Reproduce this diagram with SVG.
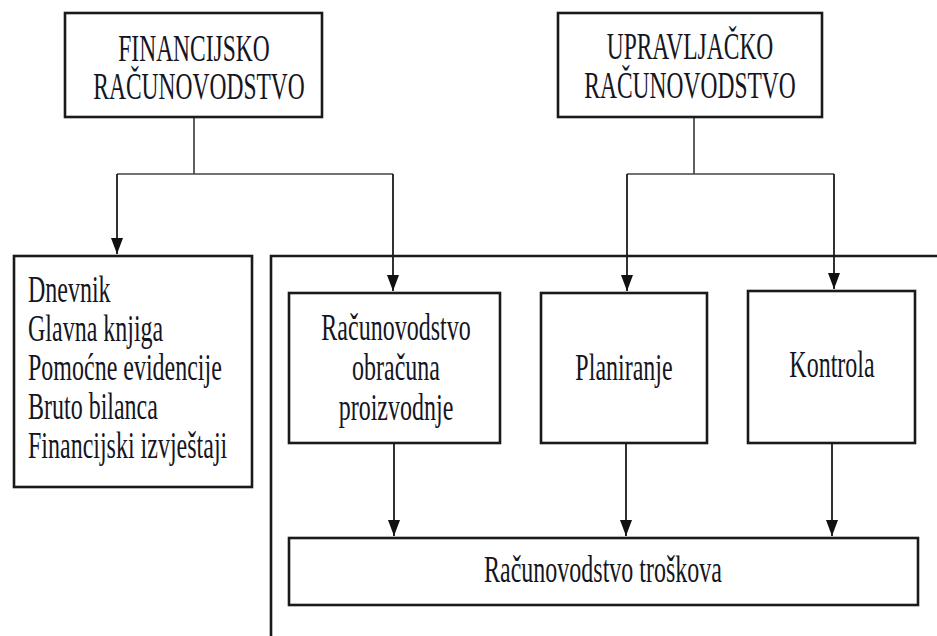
<svg xmlns="http://www.w3.org/2000/svg" width="937" height="636" viewBox="0 0 937 636">
<defs>
<marker id="ah" markerUnits="userSpaceOnUse" markerWidth="16" markerHeight="12" refX="16" refY="6" orient="auto" viewBox="0 0 16 12">
<path d="M0,0 L16,6 L0,12 Z" fill="#111"/>
</marker>
<style>
.box{fill:#fff;stroke:#1a1a1a;stroke-width:2.6}
.ln{fill:none;stroke:#444;stroke-width:1.7}
.arr{fill:none;stroke:#1a1a1a;stroke-width:1.8}
text{font-family:"Liberation Serif","Times New Roman",serif;font-size:24px;fill:#15151f}
.c{text-anchor:middle}
.t{font-size:23.5px}
</style>
</defs>
<rect width="937" height="636" fill="#fff"/>
<g id="connectors">
<path class="ln" d="M194,117 V174 M117,174 H393"/>
<path class="ln" d="M694,117 V174 M627,174 H834"/>
<line class="arr" x1="117" y1="174" x2="117" y2="254" marker-end="url(#ah)"/>
<line class="arr" x1="393" y1="174" x2="393" y2="291" marker-end="url(#ah)"/>
<line class="arr" x1="627" y1="174" x2="627" y2="291" marker-end="url(#ah)"/>
<line class="arr" x1="834" y1="174" x2="834" y2="289" marker-end="url(#ah)"/>
<line class="arr" x1="394" y1="443" x2="394" y2="536" marker-end="url(#ah)"/>
<line class="arr" x1="626" y1="443" x2="626" y2="536" marker-end="url(#ah)"/>
<line class="arr" x1="832" y1="443" x2="832" y2="536" marker-end="url(#ah)"/>
</g>
<g id="frame">
<path d="M937,256 H271 V636" fill="none" stroke="#1a1a1a" stroke-width="2.6"/>
</g>
<g id="financijsko">
<rect class="box" x="65" y="13" width="257" height="104"/>
<text class="c t" transform="translate(194,61) scale(1,1.58)">FINANCIJSKO</text>
<text class="c t" transform="translate(199,99) scale(1,1.58)">RAČUNOVODSTVO</text>
</g>
<g id="upravljacko">
<rect class="box" x="558" y="13" width="264" height="104"/>
<text class="c t" transform="translate(690,59) scale(1,1.58)">UPRAVLJAČKO</text>
<text class="c t" transform="translate(690,98) scale(1,1.58)">RAČUNOVODSTVO</text>
</g>
<g id="lista">
<rect class="box" x="14" y="256" width="238" height="231"/>
<text transform="translate(28,302) scale(1,1.58)">Dnevnik</text>
<text transform="translate(28,341) scale(1,1.58)">Glavna knjiga</text>
<text transform="translate(28,380) scale(1,1.58)">Pomoćne evidencije</text>
<text transform="translate(28,419) scale(1,1.58)">Bruto bilanca</text>
<text transform="translate(28,458) scale(1,1.58)">Financijski izvještaji</text>
</g>
<g id="obracun">
<rect class="box" x="289" y="293" width="211" height="150"/>
<text class="c" transform="translate(396,340) scale(1,1.58)">Računovodstvo</text>
<text class="c" transform="translate(396,380) scale(1,1.58)">obračuna</text>
<text class="c" transform="translate(396,420) scale(1,1.58)">proizvodnje</text>
</g>
<g id="planiranje">
<rect class="box" x="541" y="293" width="166" height="150"/>
<text class="c" transform="translate(624,380) scale(1,1.58)">Planiranje</text>
</g>
<g id="kontrola">
<rect class="box" x="748" y="291" width="167" height="152"/>
<text class="c" transform="translate(832,377) scale(1,1.58)">Kontrola</text>
</g>
<g id="troskovi">
<rect class="box" x="289" y="538" width="629" height="67"/>
<text class="c" transform="translate(603,582) scale(1,1.58)">Računovodstvo troškova</text>
</g>
</svg>
